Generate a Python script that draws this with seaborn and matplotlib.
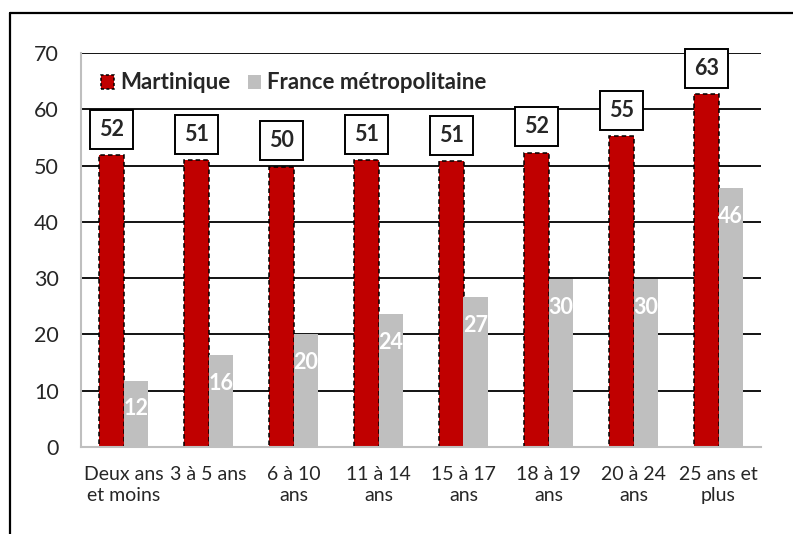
import matplotlib
matplotlib.use("Agg")
import matplotlib.pyplot as plt
from matplotlib.patches import Patch
from matplotlib.lines import Line2D
import seaborn as sns
import pandas as pd

# Age groups and shares (%) per territory
age_groups = ["Deux ans\net moins", "3 à 5 ans", "6 à 10\nans", "11 à 14\nans",
              "15 à 17\nans", "18 à 19\nans", "20 à 24\nans", "25 ans et\nplus"]
martinique = [51.9, 51.0, 49.8, 51.0, 50.8, 52.3, 55.2, 62.7]
france_metro = [11.8, 16.3, 20.1, 23.6, 26.6, 29.8, 29.8, 46.0]
series_names = ["Martinique", "France métropolitaine"]
y_ticks = [0, 10, 20, 30, 40, 50, 60, 70]

df = pd.DataFrame({
    "groupe": age_groups * 2,
    "valeur": martinique + france_metro,
    "serie": [series_names[0]] * len(age_groups) + [series_names[1]] * len(age_groups),
})

RED = "#C00000"
GREY = "#BFBFBF"

sns.set_style("white")
plt.rcParams["font.family"] = ["Lato", "DejaVu Sans"]

fig = plt.figure(figsize=(7.93, 5.34), dpi=100)
ax = fig.add_axes([81 / 793, 1 - 447 / 534, 680 / 793, 394 / 534])

sns.barplot(data=df, x="groupe", y="valeur", hue="serie", order=age_groups,
            hue_order=series_names, palette=[RED, GREY], width=0.58,
            saturation=1, legend=False, ax=ax)

# Dashed outline on the Martinique bars
for bar in ax.containers[0]:
    bar.set_edgecolor("black")
    bar.set_linewidth(1.1)
    bar.set_linestyle((0, (3, 2)))
for bar in ax.containers[1]:
    bar.set_linewidth(0)

ax.set_ylim(0, 70)
ax.set_yticks(y_ticks)
ax.set_xlim(-0.5, len(age_groups) - 0.5)
ax.set_xlabel("")
ax.set_ylabel("")
ax.yaxis.grid(True, color="black", linewidth=1.3)
ax.set_axisbelow(True)

for side in ["top", "right"]:
    ax.spines[side].set_visible(False)
for side in ["left", "bottom"]:
    ax.spines[side].set_color("#BFBFBF")
    ax.spines[side].set_linewidth(1.5)

ax.tick_params(axis="y", length=0, pad=16, labelsize=15.5)
ax.tick_params(axis="x", length=0, pad=14, labelsize=14)
for lbl in ax.get_xticklabels():
    lbl.set_linespacing(1.25)

# Value labels
ax.bar_label(ax.containers[0], fmt="%.0f", padding=11, fontsize=15.5,
             fontweight="bold",
             bbox=dict(boxstyle="square,pad=0.42", fc="white", ec="black", lw=1.4))
ax.bar_label(ax.containers[1], fmt="%.0f", padding=-28, fontsize=15.5,
             fontweight="bold", color="white")

handles = [Patch(facecolor=RED, edgecolor="black", linestyle=(0, (2, 1.5)), linewidth=1.1),
           Patch(facecolor=GREY, edgecolor="none")]
ax.legend(handles, series_names, loc="center left", bbox_to_anchor=(0.0, 0.924),
          ncol=2, frameon=False, handlelength=0.6, handleheight=0.6,
          handletextpad=0.25, columnspacing=0.8,
          prop=dict(weight="bold", size=16))

# Outer frame (left and top edges)
fig.add_artist(Line2D([10 / 793, 10 / 793], [0, 1 - 13 / 534], transform=fig.transFigure,
                      color="black", linewidth=1.6))
fig.add_artist(Line2D([10 / 793, 1], [1 - 13 / 534, 1 - 13 / 534], transform=fig.transFigure,
                      color="black", linewidth=1.6))

fig.savefig("out.png", dpi=100, facecolor="white")
